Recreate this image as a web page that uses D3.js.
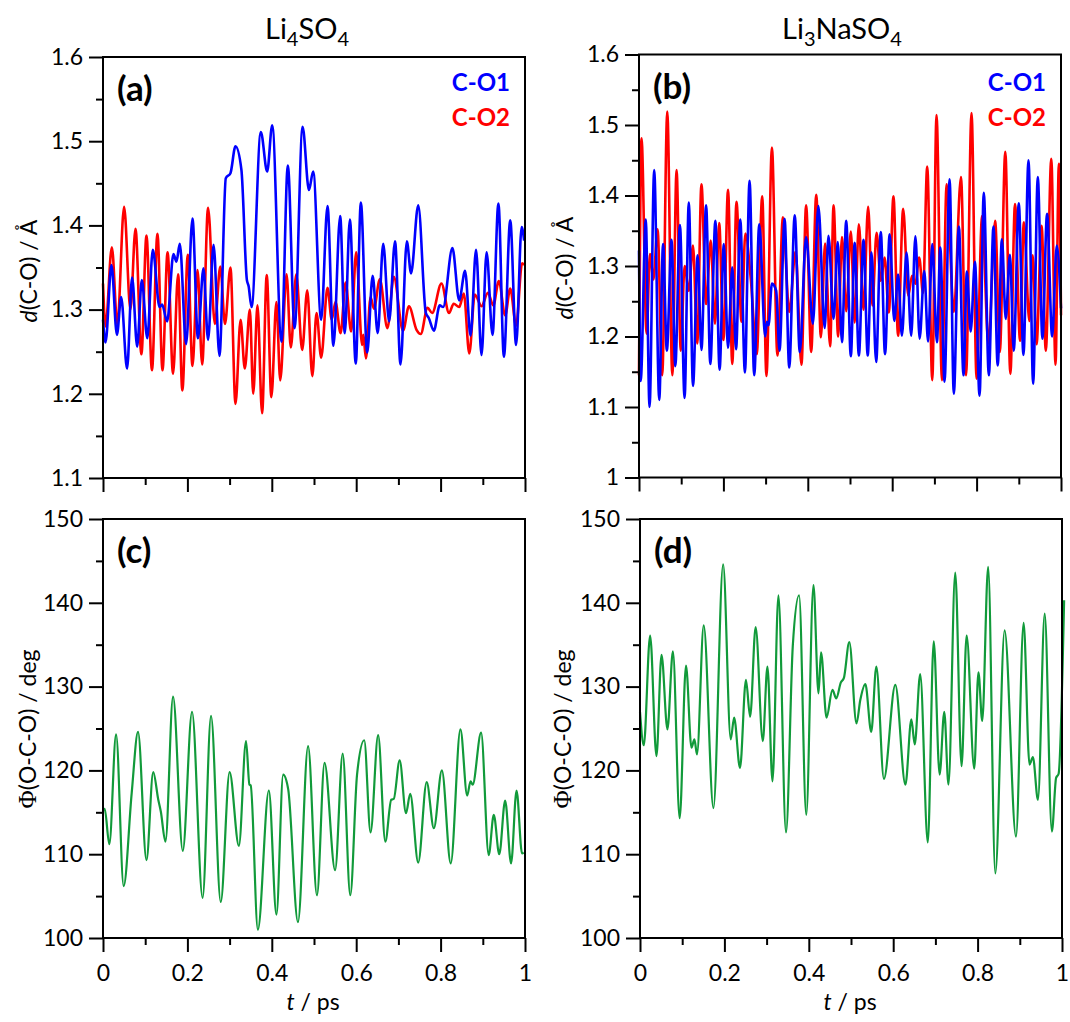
<!DOCTYPE html>
<html>
<head>
<meta charset="utf-8">
<script src="https://cdn.jsdelivr.net/npm/d3@7"></script>
<style>
  body { margin: 0; background: #fff; }
  svg { display: block; }
  text { font-family: Lato, "Open Sans", "Liberation Sans", sans-serif; fill: #000; }
</style>
</head>
<body>
<svg id="fig" width="1070" height="1022"></svg>
<script>
// ---- C–O bond lengths (Å) vs time (ps), Li4SO4 ----
const li4CO1 = [[0,1.288],[0.006,1.261],[0.020,1.353],[0.033,1.270],[0.043,1.315],[0.057,1.230],[0.069,1.338],[0.081,1.256],[0.092,1.335],[0.105,1.266],[0.118,1.371],[0.134,1.303],[0.140,1.306],[0.152,1.286],[0.167,1.366],[0.174,1.357],[0.182,1.378],[0.197,1.259],[0.212,1.408],[0.225,1.266],[0.238,1.349],[0.249,1.264],[0.262,1.377],[0.276,1.245],[0.291,1.456],[0.302,1.462],[0.314,1.494],[0.328,1.466],[0.341,1.335],[0.345,1.328],[0.352,1.303],[0.374,1.511],[0.389,1.464],[0.401,1.519],[0.423,1.262],[0.438,1.471],[0.454,1.278],[0.473,1.517],[0.488,1.442],[0.498,1.464],[0.517,1.288],[0.532,1.423],[0.546,1.257],[0.562,1.411],[0.573,1.272],[0.585,1.407],[0.599,1.236],[0.611,1.427],[0.626,1.249],[0.639,1.340],[0.651,1.272],[0.664,1.378],[0.678,1.286],[0.692,1.381],[0.705,1.235],[0.720,1.381],[0.730,1.343],[0.747,1.424],[0.765,1.296],[0.772,1.290],[0.784,1.275],[0.798,1.305],[0.806,1.303],[0.828,1.373],[0.844,1.311],[0.858,1.346],[0.871,1.269],[0.884,1.371],[0.897,1.246],[0.909,1.368],[0.923,1.270],[0.937,1.426],[0.950,1.244],[0.965,1.406],[0.979,1.258],[0.992,1.398],[0.998,1.382]];
const li4CO2 = [[0,1.331],[0.006,1.280],[0.021,1.374],[0.034,1.282],[0.050,1.422],[0.065,1.300],[0.077,1.396],[0.091,1.247],[0.103,1.388],[0.116,1.228],[0.129,1.390],[0.141,1.228],[0.153,1.368],[0.166,1.224],[0.178,1.342],[0.188,1.204],[0.201,1.365],[0.212,1.233],[0.224,1.347],[0.235,1.235],[0.249,1.421],[0.265,1.283],[0.278,1.351],[0.289,1.283],[0.302,1.350],[0.314,1.188],[0.326,1.288],[0.336,1.230],[0.348,1.300],[0.356,1.200],[0.366,1.305],[0.377,1.177],[0.388,1.341],[0.399,1.196],[0.411,1.309],[0.420,1.216],[0.435,1.342],[0.445,1.255],[0.458,1.342],[0.472,1.252],[0.484,1.323],[0.496,1.221],[0.506,1.296],[0.517,1.243],[0.532,1.326],[0.542,1.288],[0.551,1.309],[0.563,1.272],[0.575,1.332],[0.588,1.274],[0.600,1.368],[0.614,1.258],[0.617,1.270],[0.623,1.242],[0.634,1.315],[0.642,1.301],[0.656,1.336],[0.674,1.278],[0.689,1.339],[0.711,1.275],[0.725,1.304],[0.743,1.276],[0.753,1.271],[0.769,1.302],[0.780,1.296],[0.802,1.331],[0.820,1.296],[0.831,1.307],[0.844,1.303],[0.855,1.319],[0.868,1.248],[0.881,1.318],[0.897,1.304],[0.912,1.320],[0.925,1.305],[0.938,1.334],[0.953,1.293],[0.965,1.325],[0.979,1.281],[0.993,1.355],[0.998,1.353]];

// ---- C–O bond lengths (Å) vs time (ps), Li3NaSO4 ----
const li3naCO1 = [[0,1.322],[0.004,1.137],[0.016,1.366],[0.025,1.100],[0.036,1.436],[0.048,1.110],[0.057,1.331],[0.066,1.180],[0.077,1.337],[0.086,1.158],[0.097,1.358],[0.108,1.113],[0.118,1.390],[0.128,1.130],[0.139,1.315],[0.148,1.181],[0.159,1.386],[0.169,1.161],[0.181,1.364],[0.191,1.153],[0.201,1.331],[0.211,1.184],[0.221,1.298],[0.230,1.182],[0.240,1.366],[0.251,1.149],[0.262,1.421],[0.273,1.145],[0.285,1.359],[0.299,1.200],[0.303,1.221],[0.307,1.216],[0.315,1.275],[0.325,1.265],[0.333,1.180],[0.345,1.367],[0.356,1.156],[0.369,1.372],[0.381,1.178],[0.396,1.341],[0.412,1.218],[0.425,1.385],[0.440,1.212],[0.449,1.343],[0.461,1.225],[0.471,1.334],[0.481,1.192],[0.491,1.364],[0.502,1.172],[0.511,1.333],[0.521,1.173],[0.532,1.337],[0.542,1.173],[0.551,1.319],[0.562,1.164],[0.573,1.348],[0.583,1.175],[0.594,1.345],[0.605,1.222],[0.614,1.288],[0.623,1.201],[0.634,1.319],[0.645,1.201],[0.655,1.342],[0.665,1.197],[0.676,1.293],[0.685,1.193],[0.695,1.331],[0.706,1.192],[0.714,1.326],[0.724,1.136],[0.736,1.423],[0.746,1.119],[0.758,1.356],[0.769,1.145],[0.777,1.292],[0.786,1.207],[0.796,1.306],[0.807,1.116],[0.817,1.404],[0.829,1.145],[0.840,1.356],[0.850,1.159],[0.860,1.338],[0.869,1.225],[0.879,1.316],[0.888,1.180],[0.900,1.389],[0.911,1.174],[0.923,1.450],[0.934,1.133],[0.945,1.426],[0.956,1.197],[0.967,1.374],[0.979,1.200],[0.990,1.329],[1.0,1.240]];
const li3naCO2 = [[0,1.145],[0.006,1.481],[0.018,1.204],[0.026,1.317],[0.034,1.281],[0.044,1.352],[0.055,1.145],[0.067,1.519],[0.079,1.145],[0.089,1.436],[0.099,1.180],[0.108,1.300],[0.118,1.265],[0.128,1.329],[0.138,1.190],[0.148,1.416],[0.159,1.246],[0.170,1.336],[0.180,1.218],[0.190,1.361],[0.200,1.195],[0.211,1.408],[0.221,1.161],[0.231,1.391],[0.243,1.221],[0.252,1.346],[0.265,1.281],[0.279,1.175],[0.292,1.399],[0.302,1.144],[0.315,1.468],[0.328,1.173],[0.341,1.369],[0.356,1.235],[0.371,1.320],[0.385,1.160],[0.396,1.386],[0.408,1.178],[0.420,1.401],[0.431,1.199],[0.441,1.332],[0.453,1.186],[0.461,1.386],[0.472,1.200],[0.481,1.341],[0.491,1.236],[0.502,1.349],[0.511,1.220],[0.521,1.359],[0.532,1.238],[0.543,1.384],[0.553,1.244],[0.563,1.347],[0.573,1.279],[0.582,1.312],[0.592,1.234],[0.603,1.399],[0.614,1.201],[0.626,1.381],[0.638,1.258],[0.647,1.286],[0.655,1.275],[0.664,1.312],[0.673,1.262],[0.683,1.441],[0.695,1.138],[0.705,1.514],[0.718,1.138],[0.729,1.416],[0.746,1.235],[0.763,1.426],[0.775,1.145],[0.788,1.517],[0.800,1.140],[0.813,1.371],[0.828,1.190],[0.844,1.364],[0.855,1.178],[0.868,1.462],[0.880,1.147],[0.891,1.388],[0.903,1.194],[0.912,1.362],[0.925,1.222],[0.933,1.315],[0.942,1.189],[0.954,1.357],[0.964,1.180],[0.977,1.452],[0.987,1.160],[0.995,1.445],[1.0,1.230]];

// ---- O–C–O angle (deg) vs time (ps) ----
const li4Phi = [[0,115.3],[0.004,115.4],[0.015,111.2],[0.031,124.3],[0.049,106.2],[0.068,117.3],[0.083,124.6],[0.103,109.3],[0.119,119.8],[0.131,116.5],[0.137,115.1],[0.148,111.5],[0.166,128.8],[0.189,110.4],[0.211,127.0],[0.236,104.8],[0.256,126.5],[0.279,104.3],[0.300,119.8],[0.322,111.0],[0.339,123.5],[0.347,118.3],[0.350,118.2],[0.367,101.0],[0.393,117.6],[0.411,102.8],[0.427,119.5],[0.439,117.7],[0.462,101.9],[0.486,122.9],[0.507,105.1],[0.525,120.9],[0.550,108.1],[0.568,122.0],[0.586,105.1],[0.602,119.5],[0.619,123.6],[0.634,112.6],[0.652,124.2],[0.669,111.5],[0.683,116.5],[0.689,116.6],[0.703,121.2],[0.718,114.9],[0.728,117.2],[0.747,109.0],[0.767,118.6],[0.784,113.1],[0.803,120.0],[0.824,108.9],[0.847,124.9],[0.863,117.0],[0.871,118.7],[0.876,118.3],[0.896,124.5],[0.914,109.9],[0.926,114.7],[0.939,110.0],[0.953,116.4],[0.967,108.9],[0.980,117.6],[0.993,110.1],[0.997,110.2]];
const li3naPhi = [[0,127.0],[0.009,123.0],[0.024,136.1],[0.039,121.7],[0.051,133.8],[0.065,124.9],[0.078,134.2],[0.094,114.3],[0.109,132.5],[0.122,122.7],[0.129,123.7],[0.135,121.9],[0.151,137.3],[0.174,115.5],[0.197,144.6],[0.215,123.7],[0.223,126.3],[0.237,120.3],[0.251,130.8],[0.261,126.4],[0.274,137.1],[0.291,123.5],[0.302,132.4],[0.314,118.7],[0.328,140.9],[0.346,112.6],[0.362,134.8],[0.377,140.9],[0.394,114.7],[0.411,142.1],[0.423,129.2],[0.429,134.1],[0.442,126.3],[0.456,129.6],[0.465,128.6],[0.476,130.5],[0.483,131.0],[0.496,135.3],[0.513,125.6],[0.522,128.4],[0.534,130.3],[0.548,124.6],[0.560,132.4],[0.578,119.0],[0.605,130.2],[0.629,118.3],[0.643,126.1],[0.651,123.1],[0.664,131.5],[0.682,111.4],[0.696,135.4],[0.710,119.5],[0.721,127.0],[0.731,118.3],[0.747,143.6],[0.762,120.5],[0.774,136.1],[0.792,120.2],[0.802,131.7],[0.811,125.9],[0.825,144.3],[0.842,107.7],[0.864,136.7],[0.891,112.1],[0.909,137.6],[0.923,120.7],[0.931,121.6],[0.943,116.5],[0.959,138.7],[0.976,112.7],[0.986,119.1],[0.992,119.6],[1.005,140.3]];

// ---- tick values and labels ----
const timeTicks = [0, 0.2, 0.4, 0.6, 0.8, 1];
const timeTickLabels = ["0", "0.2", "0.4", "0.6", "0.8", "1"];
const timeMinor = [0.1, 0.3, 0.5, 0.7, 0.9];
const dTicksA = [1.1, 1.2, 1.3, 1.4, 1.5, 1.6];
const dTickLabelsA = ["1.1", "1.2", "1.3", "1.4", "1.5", "1.6"];
const dMinorA = [1.15, 1.25, 1.35, 1.45, 1.55];
const dTicksB = [1.0, 1.1, 1.2, 1.3, 1.4, 1.5, 1.6];
const dTickLabelsB = ["1", "1.1", "1.2", "1.3", "1.4", "1.5", "1.6"];
const dMinorB = [1.05, 1.15, 1.25, 1.35, 1.45, 1.55];
const phiTicks = [100, 110, 120, 130, 140, 150];
const phiTickLabels = ["100", "110", "120", "130", "140", "150"];
const phiMinor = [105, 115, 125, 135, 145];

const BLUE = "#0000ff", RED = "#ff0000", GREEN = "#119a3a";
const svg = d3.select("#fig");

function drawPanel(cfg) {
  const x = d3.scaleLinear().domain([0, 1]).range([cfg.left, cfg.right]);
  const y = d3.scaleLinear().domain(cfg.yDomain).range([cfg.bottom, cfg.top]);
  const g = svg.append("g");

  // data lines
  const line = d3.line().x(d => x(d[0])).y(d => y(d[1])).curve(d3.curveMonotoneX);
  cfg.series.forEach(s => {
    g.append("path").datum(s.data)
      .attr("d", line).attr("fill", "none")
      .attr("stroke", s.color).attr("stroke-width", s.width)
      .attr("stroke-linejoin", "round");
  });

  // frame
  g.append("rect")
    .attr("x", cfg.left).attr("y", cfg.top)
    .attr("width", cfg.right - cfg.left).attr("height", cfg.bottom - cfg.top)
    .attr("fill", "none").attr("stroke", "#000").attr("stroke-width", 2);

  // y axis: major ticks with labels, minor ticks without
  const yMajor = d3.axisLeft(y).tickValues(cfg.yTicks).tickSize(14).tickPadding(6)
    .tickFormat((d, i) => cfg.yLabels[i]);
  const ya = g.append("g").attr("transform", `translate(${cfg.left},0)`).call(yMajor);
  const yMinor = d3.axisLeft(y).tickValues(cfg.yMinor).tickSize(7).tickFormat("");
  const ym = g.append("g").attr("transform", `translate(${cfg.left},0)`).call(yMinor);

  // x axis
  const xMajor = d3.axisBottom(x).tickValues(timeTicks).tickSize(14).tickPadding(13)
    .tickFormat((d, i) => cfg.xLabels ? timeTickLabels[i] : "");
  const xa = g.append("g").attr("transform", `translate(0,${cfg.bottom})`).call(xMajor);
  const xMinorAx = d3.axisBottom(x).tickValues(timeMinor).tickSize(7).tickFormat("");
  const xm = g.append("g").attr("transform", `translate(0,${cfg.bottom})`).call(xMinorAx);

  [ya, ym, xa, xm].forEach(a => {
    a.select(".domain").remove();
    a.selectAll(".tick line").attr("stroke", "#000").attr("stroke-width", 2);
    a.selectAll(".tick text").attr("font-size", 23)
      .style("font-family", "Lato, 'Open Sans', sans-serif").attr("fill", "#000");
  });

  // panel letter
  g.append("text").attr("x", cfg.left + 14).attr("y", cfg.top + 44)
    .attr("font-size", 35).attr("font-weight", "bold").text(cfg.letter);

  return { x, y, g };
}

function subText(sel, parts, size, subSize) {
  parts.forEach(p => {
    if (p.sub) sel.append("tspan").attr("font-size", subSize).attr("dy", p.dy).text(p.t);
    else sel.append("tspan").attr("font-size", size).attr("dy", p.dy || 0).text(p.t);
  });
}

const A = drawPanel({ left: 103, right: 525, top: 57, bottom: 478, yDomain: [1.1, 1.6],
  yTicks: dTicksA, yLabels: dTickLabelsA, yMinor: dMinorA, xLabels: false, letter: "(a)",
  series: [{ data: li4CO2, color: RED, width: 2.6 }, { data: li4CO1, color: BLUE, width: 2.6 }] });
const B = drawPanel({ left: 639, right: 1061, top: 54.5, bottom: 477.5, yDomain: [1.0, 1.6],
  yTicks: dTicksB, yLabels: dTickLabelsB, yMinor: dMinorB, xLabels: false, letter: "(b)",
  series: [{ data: li3naCO2, color: RED, width: 2.6 }, { data: li3naCO1, color: BLUE, width: 2.6 }] });
const C = drawPanel({ left: 103, right: 525, top: 519, bottom: 938, yDomain: [100, 150],
  yTicks: phiTicks, yLabels: phiTickLabels, yMinor: phiMinor, xLabels: true, letter: "(c)",
  series: [{ data: li4Phi, color: GREEN, width: 2.2 }] });
const D = drawPanel({ left: 640, right: 1062, top: 519, bottom: 938, yDomain: [100, 150],
  yTicks: phiTicks, yLabels: phiTickLabels, yMinor: phiMinor, xLabels: true, letter: "(d)",
  series: [{ data: li3naPhi, color: GREEN, width: 2.2 }] });

// legends
[[A, 510], [B, 1046]].forEach(([p, xr]) => {
  svg.append("text").attr("x", xr).attr("y", 91).attr("text-anchor", "end")
    .attr("font-size", 24).attr("font-weight", "bold").style("fill", BLUE).text("C-O1");
  svg.append("text").attr("x", xr).attr("y", 126).attr("text-anchor", "end")
    .attr("font-size", 24).attr("font-weight", "bold").style("fill", RED).text("C-O2");
});

// column titles
const t1 = svg.append("text").attr("x", 307).attr("y", 39).attr("text-anchor", "middle");
subText(t1, [{ t: "Li" }, { t: "4", sub: true, dy: 7 }, { t: "SO", dy: -7 }, { t: "4", sub: true, dy: 7 }], 29, 20);
const t2 = svg.append("text").attr("x", 842).attr("y", 39).attr("text-anchor", "middle");
subText(t2, [{ t: "Li" }, { t: "3", sub: true, dy: 7 }, { t: "NaSO", dy: -7 }, { t: "4", sub: true, dy: 7 }], 29, 20);

// y-axis titles
function dLabel(xp, yp) {
  const t = svg.append("text").attr("transform", `translate(${xp},${yp}) rotate(-90)`)
    .attr("text-anchor", "middle").attr("font-size", 23);
  t.append("tspan").attr("font-style", "italic").text("d");
  t.append("tspan").text("(C-O) / Å");
}
dLabel(37, 271);
dLabel(573, 268);
function phiLabel(xp, yp) {
  const t = svg.append("text").attr("transform", `translate(${xp},${yp}) rotate(-90)`)
    .attr("text-anchor", "middle").attr("font-size", 23);
  t.append("tspan").style("font-family", "'Liberation Serif', 'DejaVu Serif', serif").attr("font-size", 25).text("Φ");
  t.append("tspan").text("(O-C-O) / deg");
}
phiLabel(36, 729);
phiLabel(571, 729);

// x-axis titles
function tLabel(xc) {
  const t = svg.append("text").attr("x", xc).attr("y", 1010).attr("text-anchor", "middle").attr("font-size", 23);
  t.append("tspan").attr("font-style", "italic").text("t");
  t.append("tspan").text(" / ps");
}
tLabel(313);
tLabel(850);
</script>
</body>
</html>
